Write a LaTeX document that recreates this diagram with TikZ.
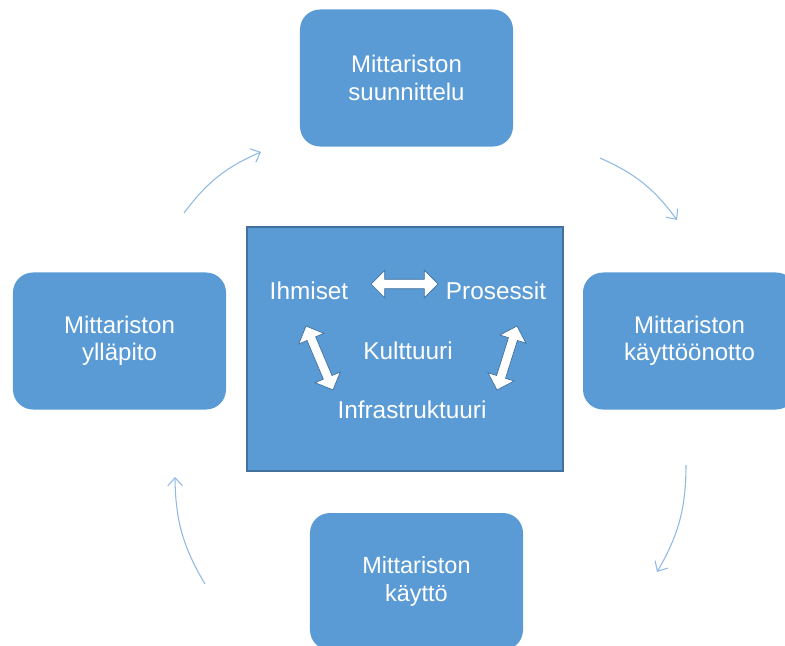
\documentclass[tikz,border=0pt]{standalone}
\usepackage{fontspec}
\setmainfont{Liberation Sans}
\usetikzlibrary{shapes.arrows,arrows.meta}
\definecolor{boxblue}{HTML}{5B9BD5}
\definecolor{edgeblue}{HTML}{41719C}
\definecolor{arcblue}{HTML}{8DB9E4}
\tikzset{
    phase/.style={fill=boxblue, rounded corners=0.6cm, minimum width=6.39cm,
        minimum height=4.11cm, text=white, align=center,
        font=\fontsize{20.5}{23.5}\selectfont},
    factor/.style={text=white, anchor=base, font=\fontsize{20.8}{24}\selectfont},
    link/.style={shape=double arrow, fill=white, draw=edgeblue, line width=0.6pt,
        inner xsep=0pt, inner ysep=0.13cm, double arrow head extend=0.27cm},
    cycle/.style={draw=arcblue, line width=0.9pt, bend left=15,
        -{Straight Barb[length=2.4mm,width=4.4mm]}}
}
\begin{document}
\begin{tikzpicture}[x=0.03cm, y=-0.03cm]
                \useasboundingbox (0,0) rectangle (785,646);
                \clip (0,0) rectangle (785,646);

                % the four phases
                \node[phase] (suun) at (406.5,78) {Mittariston\\suunnittelu};
                \node[phase] (oton) at (689.5,341) {Mittariston\\käyttöönotto};
                \node[phase, font=\fontsize{20}{23.5}\selectfont] (kayt) at (416.5,581.5) {Mittariston\\käyttö};
                \node[phase] (yllp) at (119.5,341) {Mittariston\\ylläpito};

                % centre
                \node[fill=boxblue, draw=edgeblue, line width=1.2pt, minimum width=9.48cm,
                    minimum height=7.32cm] (core) at (405,349) {};
                \node[factor] (ihm) at (309,299) {Ihmiset};
                \node[factor] (pro) at (496,299) {Prosessit};
                \node[factor] (kul) at (408,359) {Kulttuuri};
                \node[factor] (inf) at (412,418) {Infrastruktuuri};

                \node[link, minimum height=2.01cm] (ip) at (404.5,284) {};
                \node[link, minimum height=2.08cm, rotate=-67.1] (ii) at (319.5,358) {};
                \node[link, minimum height=2.01cm, rotate=72.6] (pi) at (507,358) {};

                % cycle
                \coordinate (c1) at (184,213);
                \coordinate (c2) at (261,152);
                \coordinate (c3) at (600,158);
                \coordinate (c4) at (677,220);
                \coordinate (c5) at (686,465);
                \coordinate (c6) at (657,572);
                \coordinate (c7) at (205,584);
                \coordinate (c8) at (175,477);

                \draw[cycle] (c1) to (c2);
                \draw[cycle] (c3) to (c4);
                \draw[cycle] (c5) to (c6);
                \draw[cycle] (c7) to (c8);
            \end{tikzpicture}
\end{document}
